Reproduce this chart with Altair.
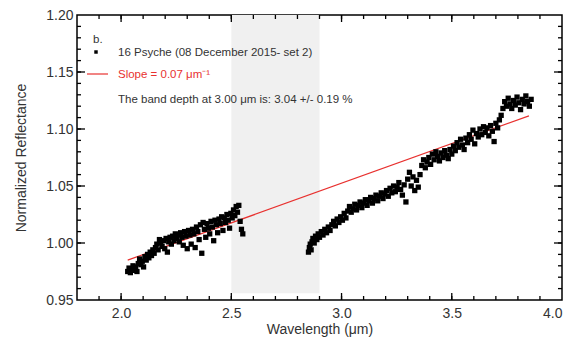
import altair as alt
import pandas as pd

# ---- data ----
w1 = [2.030, 2.036, 2.042, 2.048, 2.054, 2.060, 2.066, 2.072, 2.078, 2.084, 2.090, 2.096,
      2.102, 2.108, 2.114, 2.120, 2.126, 2.132, 2.138, 2.144, 2.150, 2.156, 2.162, 2.168,
      2.174, 2.180, 2.186, 2.192, 2.198, 2.204, 2.210, 2.216, 2.222, 2.228, 2.234, 2.240,
      2.246, 2.252, 2.258, 2.264, 2.270, 2.276, 2.282, 2.288, 2.294, 2.300, 2.306, 2.312,
      2.318, 2.324, 2.330, 2.336, 2.342, 2.348, 2.354, 2.360, 2.366, 2.372, 2.378, 2.384,
      2.390, 2.396, 2.402, 2.408, 2.414, 2.420, 2.426, 2.432, 2.438, 2.444, 2.450, 2.456,
      2.462, 2.468, 2.474, 2.480, 2.486, 2.492, 2.498, 2.504, 2.510, 2.516, 2.522, 2.528,
      2.534, 2.540, 2.546, 2.552]
r1 = [0.975, 0.978, 0.974, 0.977, 0.980, 0.976, 0.979, 0.975, 0.982, 0.986, 0.981, 0.984,
      0.979, 0.988, 0.985, 0.990, 0.987, 0.992, 0.989, 0.994, 0.991, 0.996, 0.999, 0.994,
      1.003, 1.000, 0.997, 1.002, 0.995, 1.004, 0.992, 1.001, 1.005, 0.999, 1.006, 1.002,
      1.008, 1.004, 1.007, 1.001, 1.009, 1.005, 0.998, 1.010, 1.006, 0.995, 1.011, 1.007,
      0.999, 1.012, 1.008, 0.996, 1.014, 1.010, 1.003, 1.016, 0.991, 1.018, 1.012, 1.005,
      1.017, 1.013, 1.008, 1.019, 1.014, 1.002, 1.020, 1.016, 1.009, 1.021, 1.017, 1.023,
      1.011, 1.022, 1.018, 1.025, 1.020, 1.013, 1.026, 1.022, 1.029, 1.024, 1.032, 1.027,
      1.033, 1.019, 1.012, 1.008]

w2 = [2.850, 2.854, 2.858, 2.862, 2.866, 2.870, 2.876, 2.882, 2.888, 2.894, 2.900, 2.908,
      2.916, 2.924, 2.932, 2.940, 2.948, 2.956, 2.964, 2.972, 2.980, 2.988, 2.996, 3.004,
      3.012, 3.020, 3.028, 3.036, 3.044, 3.052, 3.060, 3.068, 3.076, 3.084, 3.092, 3.100,
      3.108, 3.116, 3.124, 3.132, 3.140, 3.148, 3.156, 3.164, 3.172, 3.180, 3.188, 3.196,
      3.204, 3.212, 3.220, 3.228, 3.236, 3.244, 3.252, 3.260, 3.268, 3.276, 3.284, 3.292,
      3.300, 3.308, 3.316, 3.324, 3.332, 3.340, 3.348, 3.356, 3.364, 3.372, 3.380, 3.388,
      3.396, 3.404, 3.412, 3.420, 3.428, 3.436, 3.444, 3.452, 3.460, 3.468, 3.476, 3.484,
      3.492, 3.500, 3.508, 3.516, 3.524, 3.532, 3.540, 3.548, 3.556, 3.564, 3.572, 3.580,
      3.588, 3.596, 3.604, 3.612, 3.620, 3.628, 3.636, 3.644, 3.652, 3.660, 3.668, 3.676,
      3.684, 3.692, 3.700, 3.708, 3.716, 3.724, 3.732, 3.740, 3.748, 3.756, 3.764, 3.772,
      3.780, 3.788, 3.796, 3.804, 3.812, 3.820, 3.828, 3.836, 3.844, 3.852, 3.860]
r2 = [0.992, 0.996, 0.999, 0.994, 1.001, 1.004, 1.000, 1.006, 1.003, 1.008, 1.005, 1.010,
      1.007, 1.012, 1.009, 1.014, 1.011, 1.016, 1.019, 1.015, 1.021, 1.018, 1.023, 1.020,
      1.026, 1.022, 1.028, 1.032, 1.027, 1.030, 1.034, 1.029, 1.033, 1.036, 1.031, 1.035,
      1.038, 1.033, 1.037, 1.040, 1.035, 1.039, 1.042, 1.037, 1.041, 1.044, 1.039, 1.043,
      1.046, 1.041, 1.048, 1.044, 1.050, 1.045, 1.049, 1.053, 1.047, 1.042, 1.051, 1.036,
      1.056, 1.062, 1.050, 1.058, 1.046, 1.055, 1.049, 1.060, 1.068, 1.073, 1.066, 1.071,
      1.075, 1.069, 1.078, 1.073, 1.080, 1.076, 1.072, 1.079, 1.075, 1.081, 1.077, 1.074,
      1.082, 1.078, 1.085, 1.081, 1.088, 1.084, 1.091, 1.086, 1.082, 1.092, 1.088, 1.095,
      1.091, 1.099, 1.087, 1.096, 1.093, 1.100, 1.095, 1.102, 1.097, 1.101, 1.094, 1.103,
      1.098, 1.089, 1.105, 1.101, 1.108, 1.112, 1.118, 1.124, 1.120, 1.127, 1.122, 1.118,
      1.125, 1.121, 1.128, 1.123, 1.117, 1.126, 1.122, 1.129, 1.124, 1.120, 1.126]

fit_w = [2.03, 3.85]
fit_r = [0.985, 1.1115]

band_w = [2.5, 2.9]
band_r = [0.956, 1.2]

x_ticks_major = [2.0, 2.5, 3.0, 3.5]
x_ticks_minor = [1.9, 2.0, 2.1, 2.2, 2.3, 2.4, 2.5, 2.6, 2.7, 2.8, 2.9, 3.0, 3.1,
                 3.2, 3.3, 3.4, 3.5, 3.6, 3.7, 3.8, 3.9]
y_ticks_major = [1.00, 1.05, 1.10, 1.15]
y_ticks_minor = [0.96, 0.97, 0.98, 0.99, 1.00, 1.01, 1.02, 1.03, 1.04, 1.05, 1.06,
                 1.07, 1.08, 1.09, 1.10, 1.11, 1.12, 1.13, 1.14, 1.15, 1.16, 1.17,
                 1.18, 1.19]
x_labels = [2.0, 2.5, 3.0, 3.5, 4.0]
y_labels = [0.95, 1.00, 1.05, 1.10, 1.15, 1.20]

W, H = 485, 285
PAD_TOP = 7
PAD_LEFT = 69
FONT = "Liberation Sans"
XD = [1.8, 4.0]
YD = [0.95, 1.20]
xs = alt.Scale(domain=XD, nice=False, zero=False)
ys = alt.Scale(domain=YD, nice=False, zero=False)

x_axis = alt.Axis(values=x_labels, format=".1f", tickSize=0, domain=False, grid=False,
                  labelPadding=6, titlePadding=2, labelFontSize=14, titleFontSize=14,
                  labelFont=FONT, titleFont=FONT, labelColor="#333", titleColor="#333",
                  titleFontWeight="normal")
y_axis = alt.Axis(values=y_labels, format=".2f", tickSize=0, domain=False, grid=False,
                  labelPadding=4, titlePadding=17, labelFontSize=14, titleFontSize=14,
                  labelFont=FONT, titleFont=FONT, labelColor="#333", titleColor="#333",
                  titleFontWeight="normal")

pts = pd.DataFrame({"w": w1 + w2, "r": r1 + r2})
fit = pd.DataFrame({"w": fit_w, "r": fit_r})
band = pd.DataFrame({"w": [band_w[0]], "w2": [band_w[1]], "r": [band_r[0]], "r2": [band_r[1]]})

band_layer = alt.Chart(band).mark_rect(color="#f0f0f0").encode(
    x=alt.X("w:Q", scale=xs, axis=x_axis, title="Wavelength (μm)"), x2="w2:Q",
    y=alt.Y("r:Q", scale=ys, axis=y_axis, title="Normalized Reflectance"), y2="r2:Q")

points = alt.Chart(pts).mark_square(color="black", size=28, opacity=1).encode(
    x=alt.X("w:Q", scale=xs), y=alt.Y("r:Q", scale=ys))

fit_line = alt.Chart(fit).mark_line(color="#e8312f", strokeWidth=1.2).encode(
    x=alt.X("w:Q", scale=xs), y=alt.Y("r:Q", scale=ys))

def xticks(vals, length):
    df = pd.DataFrame({"w": vals})
    bot = alt.Chart(df).mark_rule(color="black", strokeWidth=1.3).encode(
        x=alt.X("w:Q", scale=xs), y=alt.value(H), y2=alt.value(H - length))
    top = alt.Chart(df).mark_rule(color="black", strokeWidth=1.3).encode(
        x=alt.X("w:Q", scale=xs), y=alt.value(0), y2=alt.value(length))
    return [bot, top]

def yticks(vals, length):
    df = pd.DataFrame({"r": vals})
    left = alt.Chart(df).mark_rule(color="black", strokeWidth=1.3).encode(
        y=alt.Y("r:Q", scale=ys), x=alt.value(0), x2=alt.value(length))
    right = alt.Chart(df).mark_rule(color="black", strokeWidth=1.3).encode(
        y=alt.Y("r:Q", scale=ys), x=alt.value(W), x2=alt.value(W - length))
    return [left, right]

tick_layers = (xticks(x_ticks_minor, 4) + xticks(x_ticks_major, 7)
               + yticks(y_ticks_minor, 4) + yticks(y_ticks_major, 8))

# legend annotations
leg_text = pd.DataFrame({
    "t": ["b.", "16 Psyche (08 December 2015- set 2)", "Slope = 0.07 μm⁻¹",
          "The band depth at 3.00 μm is: 3.04 +/- 0.19 %"],
    "x": [16, 41, 41, 41],
    "y": [25, 38, 60, 85],
    "c": ["#333", "#333", "#e8312f", "#333"],
})
texts = alt.Chart(leg_text).mark_text(align="left", baseline="middle", font=FONT,
                                      fontSize=11.5).encode(
    x=alt.X("x:Q", scale=None), y=alt.Y("y:Q", scale=None),
    text="t:N", color=alt.Color("c:N", scale=None))

leg_marker = alt.Chart(pd.DataFrame({"x": [19], "y": [37]})).mark_square(
    color="black", size=12, opacity=1).encode(
    x=alt.X("x:Q", scale=None), y=alt.Y("y:Q", scale=None))
leg_line = alt.Chart(pd.DataFrame({"x": [10]})).mark_rule(
    color="#e8312f", strokeWidth=1.2).encode(
    x=alt.value(10), x2=alt.value(31), y=alt.value(59))

chart = alt.layer(band_layer, fit_line, points, *tick_layers, texts, leg_marker,
                  leg_line).resolve_axis(x="shared", y="shared").properties(
    width=W, height=H,
    background="white",
    padding={"left": PAD_LEFT, "top": PAD_TOP, "right": 566 - PAD_LEFT - W,
             "bottom": 331 - PAD_TOP - H},
    autosize=alt.AutoSizeParams(type="none"),
).configure_view(stroke="black", strokeWidth=1.5)

chart.save("out.html", embed_options={"renderer": "svg", "actions": False})
